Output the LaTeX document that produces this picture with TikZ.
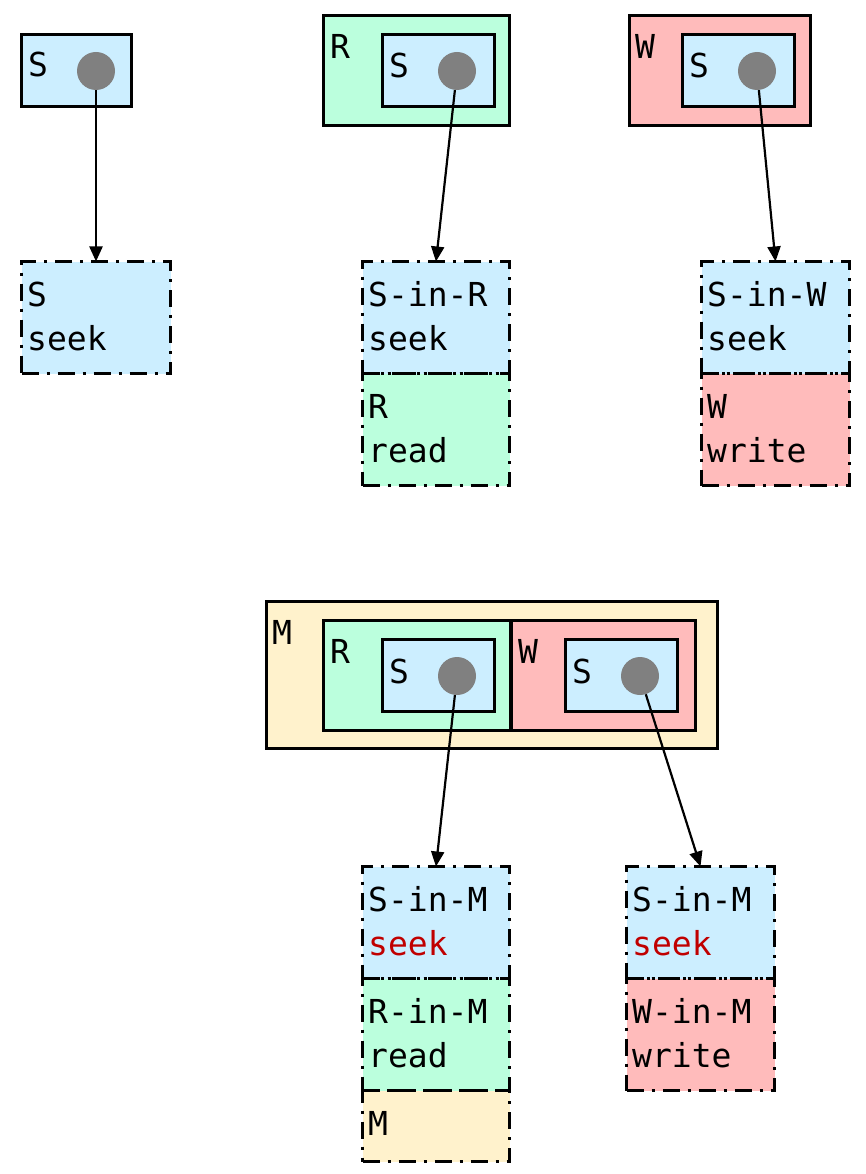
\documentclass[tikz,border=0pt]{standalone}
\usepackage{fontspec}
\setmonofont{DejaVu Sans Mono}
\usepackage{tikz}
\usetikzlibrary{arrows.meta}

\definecolor{sblue}{RGB}{204,238,255}
\definecolor{rgreen}{RGB}{187,255,221}
\definecolor{wpink}{RGB}{255,187,187}
\definecolor{myellow}{RGB}{255,242,204}
\definecolor{dotgray}{RGB}{128,128,128}
\definecolor{seekred}{RGB}{192,0,0}

\begin{document}
\begin{tikzpicture}
        [x=1pt, y=-1pt,
        frame/.style={draw=black, line width=3.6pt, anchor=north west, inner sep=0, outer sep=0},
        cell/.style={frame, dash pattern=on 17pt off 8pt on 3pt off 8pt},
        seam/.style={line width=3.6pt, dash pattern=on 17pt off 8pt on 3pt off 8pt},
        dot/.style={circle, fill=dotgray, inner sep=0, minimum size=38pt},
        tag/.style={anchor=base west, inner sep=0, align=left,
          font=\ttfamily\fontsize{33}{44}\selectfont},
        arr/.style={-{Triangle[length=15pt,width=13pt]}, line width=2.2pt}]
        \useasboundingbox (0,0) rectangle (865,1174);

        % plain S
        \node (sa) at (21.5,34.5) [frame, fill=sblue, minimum width=110pt, minimum height=72pt] {};
        \node (sa-t) at (28,77) [tag] {S};
        \node (da) at (96,71) [dot] {};
        \node (seeka) at (21.5,261.5) [cell, fill=sblue, minimum width=149pt, minimum height=112pt] {};
        \node (seeka-t) at (27,350) [tag] {S\\seek};
        \draw[arr] (da) -- (seeka.north);

        % S wrapped in R
        \node (rb) at (323.5,15.5) [frame, fill=rgreen, minimum width=186pt, minimum height=110pt] {};
        \node (rb-t) at (330,59) [tag] {R};
        \node (sb) at (382.5,34.5) [frame, fill=sblue, minimum width=112pt, minimum height=72pt] {};
        \node (sb-t) at (389,78) [tag] {S};
        \node (db) at (457,71) [dot] {};
        \node (seekb) at (362.5,261.5) [cell, fill=sblue, minimum width=147pt, minimum height=112pt] {};
        \node (seekb-t) at (368,350) [tag] {S-in-R\\seek};
        \node (readb) at (362.5,373.5) [cell, fill=rgreen, minimum width=147pt, minimum height=112pt] {};
        \node (readb-t) at (368,462) [tag] {R\\read};
        \draw[seam] (seekb.south west) -- (seekb.south east);
        \draw[arr] (db) -- (seekb.north);

        % S wrapped in W
        \node (wc) at (629.5,15.5) [frame, fill=wpink, minimum width=181pt, minimum height=110pt] {};
        \node (wc-t) at (635,59) [tag] {W};
        \node (sc) at (682.5,34.5) [frame, fill=sblue, minimum width=112pt, minimum height=72pt] {};
        \node (sc-t) at (689,78) [tag] {S};
        \node (dc) at (757,71) [dot] {};
        \node (seekc) at (701.5,261.5) [cell, fill=sblue, minimum width=148pt, minimum height=112pt] {};
        \node (seekc-t) at (707,350) [tag] {S-in-W\\seek};
        \node (writec) at (701.5,373.5) [cell, fill=wpink, minimum width=148pt, minimum height=112pt] {};
        \node (writec-t) at (707,462) [tag] {W\\write};
        \draw[seam] (seekc.south west) -- (seekc.south east);
        \draw[arr] (dc) -- (seekc.north);

        % R and W wrapped in M
        \node (mm) at (266.5,601.5) [frame, fill=myellow, minimum width=451pt, minimum height=147pt] {};
        \node (mm-t) at (272,644) [tag] {M};
        \node (rm) at (323.5,620.5) [frame, fill=rgreen, minimum width=187.5pt, minimum height=110pt] {};
        \node (rm-t) at (330,663) [tag] {R};
        \node (wm) at (511,620.5) [frame, fill=wpink, minimum width=184.5pt, minimum height=110pt] {};
        \node (wm-t) at (518,663) [tag] {W};
        \node (srm) at (382.5,639.5) [frame, fill=sblue, minimum width=112pt, minimum height=72pt] {};
        \node (srm-t) at (389,683) [tag] {S};
        \node (swm) at (565.5,639.5) [frame, fill=sblue, minimum width=112pt, minimum height=72pt] {};
        \node (swm-t) at (572,683) [tag] {S};
        \node (drm) at (457,676) [dot] {};
        \node (dwm) at (640,676) [dot] {};

        % unwrapped cells under M
        \node (seekd) at (362.5,866.5) [cell, fill=sblue, minimum width=147pt, minimum height=112pt] {};
        \node (seekd-t) at (368,955) [tag] {S-in-M\\\textcolor{seekred}{seek}};
        \node (readd) at (362.5,978.5) [cell, fill=rgreen, minimum width=147pt, minimum height=112pt] {};
        \node (readd-t) at (368,1067) [tag] {R-in-M\\read};
        \node (md) at (362.5,1090.5) [cell, fill=myellow, minimum width=147pt, minimum height=71pt] {};
        \node (md-t) at (368,1135) [tag] {M};
        \draw[seam] (seekd.south west) -- (seekd.south east);
        \draw[seam] (readd.south west) -- (readd.south east);
        \node (seeke) at (626.5,866.5) [cell, fill=sblue, minimum width=148pt, minimum height=112pt] {};
        \node (seeke-t) at (632,955) [tag] {S-in-M\\\textcolor{seekred}{seek}};
        \node (writee) at (626.5,978.5) [cell, fill=wpink, minimum width=148pt, minimum height=112pt] {};
        \node (writee-t) at (632,1067) [tag] {W-in-M\\write};
        \draw[seam] (seeke.south west) -- (seeke.south east);
        \draw[arr] (drm) -- (seekd.north);
        \draw[arr] (dwm) -- (seeke.north);
\end{tikzpicture}
\end{document}
